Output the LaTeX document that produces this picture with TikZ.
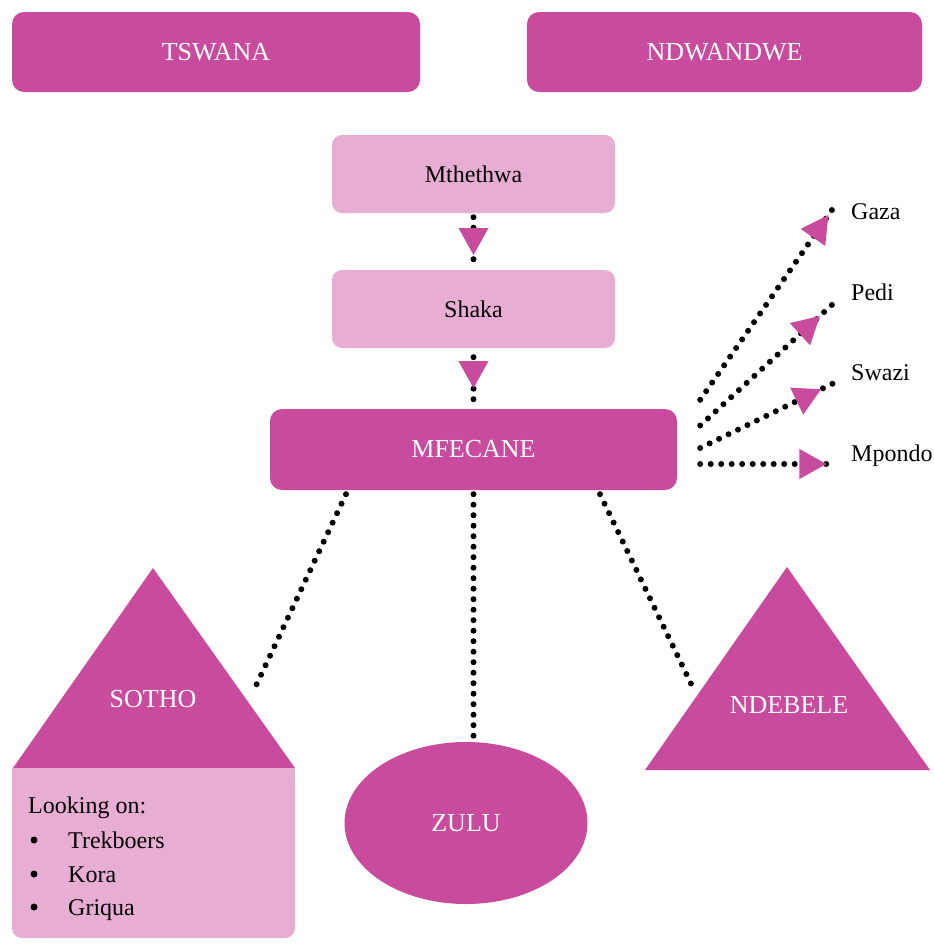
\documentclass[tikz,border=0pt]{standalone}
\usepackage{fontspec}
\setmainfont{Liberation Serif}
\usetikzlibrary{decorations.markings,shapes.geometric}

\definecolor{mfdark}{HTML}{C94B9D}
\definecolor{mflight}{HTML}{E8ADD3}

\tikzset{
  bigbox/.style={fill=mfdark, rounded corners=12pt, text=white,
    font=\fontsize{26}{30}\selectfont, minimum height=80pt, inner sep=0pt},
  smallbox/.style={fill=mflight, rounded corners=10pt, text=black,
    font=\fontsize{24}{28}\selectfont, minimum width=283pt, minimum height=78pt, inner sep=0pt},
  dots/.style={line width=6pt, line cap=round, dash pattern=on 0pt off 10.5pt, black},
  arrowat/.style={postaction={decorate, decoration={markings,
    mark=at position #1 with {\fill[mfdark] (13.5,0) -- (-13.5,15) -- (-13.5,-15) -- cycle;}}}},
  caplabel/.style={text=white, font=\fontsize{26}{30}\selectfont, inner sep=0pt},
  sidelabel/.style={anchor=west, font=\fontsize{24}{28}\selectfont, inner sep=0pt},
  listtext/.style={anchor=base west, font=\fontsize{24}{28}\selectfont, inner sep=0pt},
  bulletmark/.style={circle, fill=black, inner sep=0pt, minimum size=7pt},
}

\begin{document}
\begin{tikzpicture}[x=1pt, y=-1pt]
  \useasboundingbox[fill=white] (0,0) rectangle (934,948);

  % top groups
  \node[bigbox, minimum width=408pt] (tswana) at (216,52) {TSWANA};
  \node[bigbox, minimum width=395pt] (ndwandwe) at (724.5,52) {NDWANDWE};

  % chain down to the Mfecane
  \node[smallbox] (mthethwa) at (473.5,174) {Mthethwa};
  \node[smallbox] (shaka) at (473.5,309) {Shaka};
  \node[bigbox, minimum width=407pt, minimum height=81pt] (mfecane) at (473.5,449.5) {MFECANE};

  \draw[dots, arrowat=0.49] ([yshift=-4pt]mthethwa.south) -- ([yshift=3pt]shaka.north);
  \draw[dots, arrowat=0.39] ([yshift=-9pt]shaka.south) -- ([yshift=7pt]mfecane.north);

  % groups scattered to the east
  \node[sidelabel] (gaza) at (851,212) {Gaza};
  \node[sidelabel] (pedi) at (851,292) {Pedi};
  \node[sidelabel] (swazi) at (851,373) {Swazi};
  \node[sidelabel] (mpondo) at (851,456) {Mpondo};

  \draw[dots, arrowat=0.9]  ([shift={(23,-9)}]mfecane.north east) -- ([shift={(-17,-5)}]gaza.west);
  \draw[dots, arrowat=0.82] ([shift={(23,-24)}]mfecane.east) -- ([shift={(-17,11)}]pedi.west);
  \draw[dots, arrowat=0.8]  ([shift={(23,-1.5)}]mfecane.east) -- ([shift={(-15,9)}]swazi.west);
  \draw[dots, arrowat=0.83] ([shift={(23,14.5)}]mfecane.east) -- ([shift={(-15,8)}]mpondo.west);

  % Sotho: triangle over a rounded panel
  \fill[mfdark] (153,568) -- (295,768) -- (13,768) -- cycle;
  \node[caplabel] (sotho) at (153,699) {SOTHO};
  \fill[mflight, rounded corners=10pt] (12,768) rectangle (295,938);
  \fill[mflight] (12,768) rectangle (295,790);
  \node[listtext] (lookingon) at (28,813) {Looking on:};
  \node[bulletmark] (bulleta) at (34,840) {};
  \node[listtext] (trekboers) at (68,848) {Trekboers};
  \node[bulletmark] (bulletb) at (34,874) {};
  \node[listtext] (kora) at (68,882) {Kora};
  \node[bulletmark] (bulletc) at (34,907) {};
  \node[listtext] (griqua) at (68,915) {Griqua};

  % Zulu
  \node[ellipse, fill=mfdark, minimum width=243pt, minimum height=162pt, caplabel] (zulu) at (466,823) {ZULU};

  % Ndebele
  \fill[mfdark] (787,567) -- (930,770) -- (645,770) -- cycle;
  \node[caplabel] (ndebele) at (789,705) {NDEBELE};

  % links below the Mfecane
  \coordinate (sothoend) at (253,692);
  \coordinate (ndebeleend) at (695,692);
  \draw[dots] ([shift={(-127.5,4)}]mfecane.south) -- (sothoend);
  \draw[dots] ([yshift=-4pt]mfecane.south) -- (mfecane.south |- zulu.north);
  \draw[dots] ([shift={(126.5,4)}]mfecane.south) -- (ndebeleend);
\end{tikzpicture}
\end{document}
